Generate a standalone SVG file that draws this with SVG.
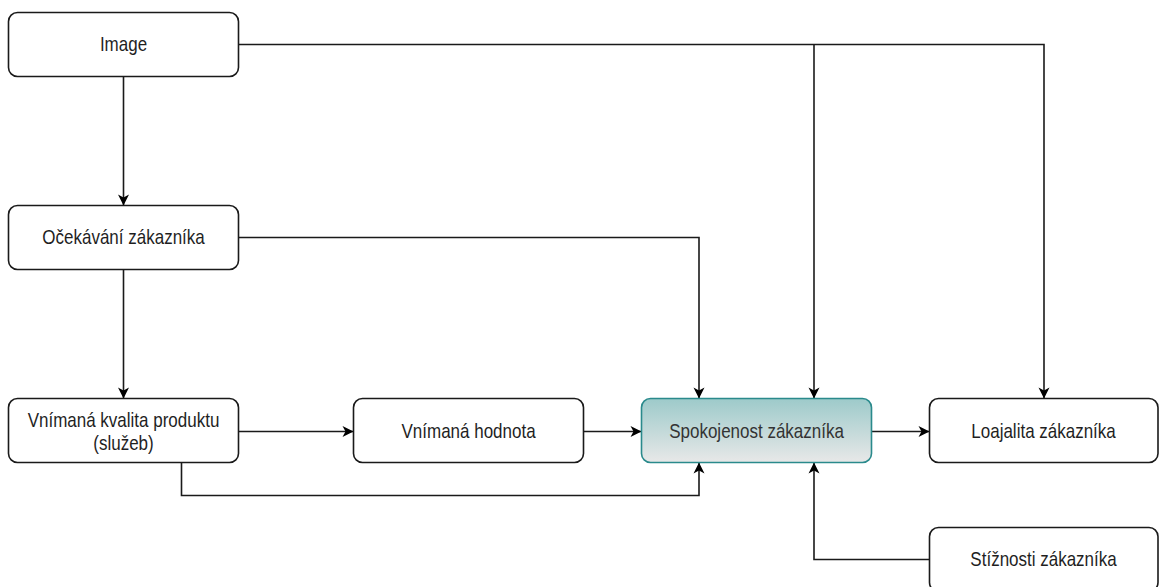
<svg xmlns="http://www.w3.org/2000/svg" width="1159" height="587" viewBox="0 0 1159 587">
<defs>
<style>
.box{fill:#ffffff;stroke:#1a1a1a;stroke-width:1.6}
.hl{fill:url(#g);stroke:#2a8a8c;stroke-width:1.6}
.t{font-family:"Liberation Sans",Arial,sans-serif;font-size:20px;fill:#1f1f1f;text-anchor:middle;transform-box:fill-box;transform-origin:center;transform:scaleX(0.85)}
.th{fill:#333333}
.c{fill:none;stroke:#1a1a1a;stroke-width:1.6;marker-end:url(#a)}
</style>
<linearGradient id="g" x1="0" y1="0" x2="0" y2="1">
<stop offset="0" stop-color="#9dcaca"/>
<stop offset="1" stop-color="#e8e8e8"/>
</linearGradient>
<marker id="a" markerUnits="userSpaceOnUse" markerWidth="14" markerHeight="14" viewBox="-12 -7 14 14" refX="0" refY="0" orient="auto">
<path d="M-11,-5.5 L0,0 L-11,5.5 L-8,0 Z" fill="#000000"/>
</marker>
</defs>
<g id="connectors">
<path class="c" d="M123.5,76.5 V205.5"/>
<path class="c" d="M123.5,269.5 V398.5"/>
<path class="c" d="M238.5,44.5 H1044 V398.5"/>
<path class="c" d="M814,44.5 V398.5"/>
<path class="c" d="M238.5,237.5 H699 V398.5"/>
<path class="c" d="M238.5,431.5 H353.5"/>
<path class="c" d="M583.5,431.5 H641.5"/>
<path class="c" d="M871.5,431.5 H929.5"/>
<path class="c" d="M181.5,462.5 V495.5 H699 V462.5"/>
<path class="c" d="M929.5,559.5 H814 V462.5"/>
</g>
<g id="image">
<rect class="box" x="8.5" y="12.5" width="230" height="64" rx="9"/>
<text class="t" x="123.5" y="51.5">Image</text>
</g>
<g id="ocekavani">
<rect class="box" x="8.5" y="205.5" width="230" height="64" rx="9"/>
<text class="t" x="123.5" y="244.5">Očekávání zákazníka</text>
</g>
<g id="kvalita">
<rect class="box" x="8.5" y="398.5" width="230" height="64" rx="9"/>
<text class="t" x="123.5" y="427">Vnímaná kvalita produktu</text>
<text class="t" x="123.5" y="450">(služeb)</text>
</g>
<g id="hodnota">
<rect class="box" x="353.5" y="398.5" width="230" height="64" rx="9"/>
<text class="t" x="468.5" y="438.5">Vnímaná hodnota</text>
</g>
<g id="spokojenost">
<rect class="hl" x="641.5" y="398.5" width="230" height="64" rx="9"/>
<text class="t th" x="756.5" y="438.5">Spokojenost zákazníka</text>
</g>
<g id="loajalita">
<rect class="box" x="929.5" y="398.5" width="228.5" height="64" rx="9"/>
<text class="t" x="1043.5" y="438.5">Loajalita zákazníka</text>
</g>
<g id="stiznosti">
<rect class="box" x="929.5" y="527.5" width="228.5" height="64" rx="9"/>
<text class="t" x="1043.5" y="566.5">Stížnosti zákazníka</text>
</g>
</svg>
